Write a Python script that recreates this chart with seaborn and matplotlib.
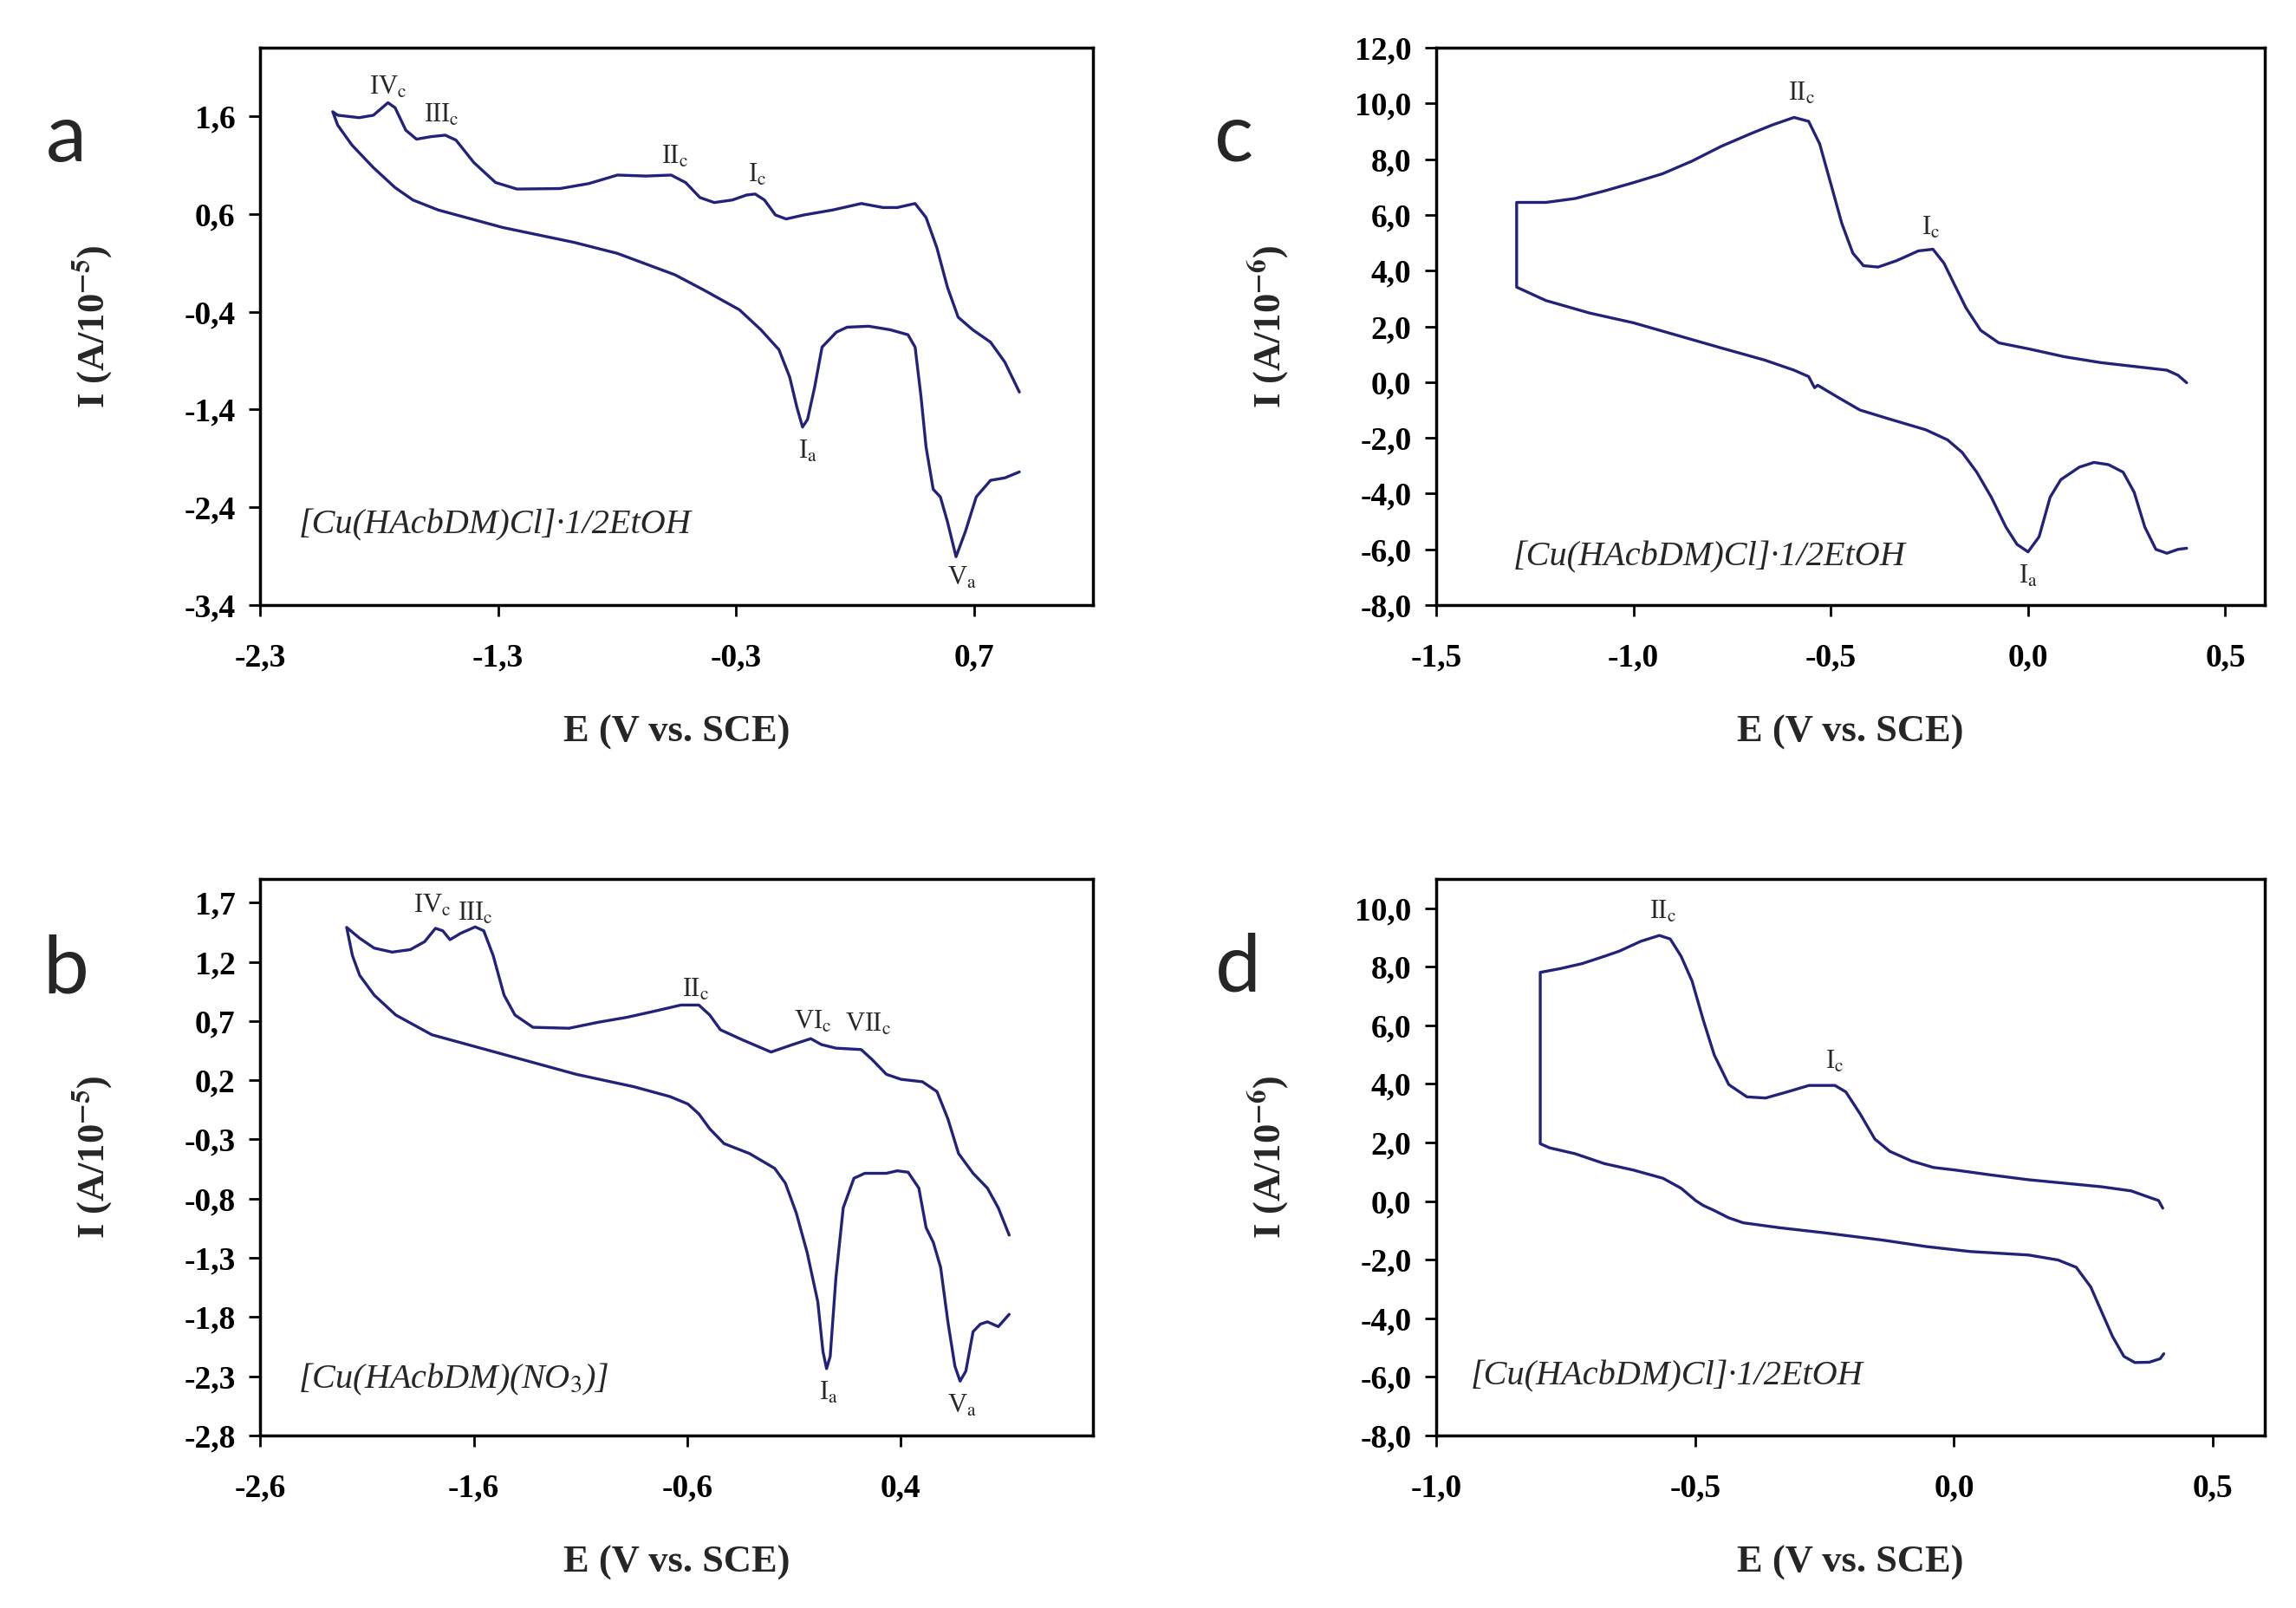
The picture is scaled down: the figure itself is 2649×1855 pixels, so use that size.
import numpy as np
import pandas as pd
import seaborn as sns
import matplotlib.pyplot as plt

# Voltamogramas ciclicos - 4 paineis (a, b, c, d)

sns.set_style('white')
plt.rcParams['font.family'] = ['Liberation Serif', 'DejaVu Serif']
plt.rcParams['mathtext.fontset'] = 'stix'

COR = '#22227a'

# ---- painel a ----
a_sup_E = [-1.995, -1.974, -1.884, -1.824, -1.763, -1.733, -1.688, -1.643, -1.582, -1.522,
           -1.477, -1.402, -1.311, -1.221, -1.040, -0.919, -0.799, -0.678, -0.573, -0.512,
           -0.452, -0.392, -0.316, -0.256, -0.220, -0.181, -0.135, -0.090, -0.015, 0.106,
           0.226, 0.317, 0.377, 0.452, 0.498, 0.543, 0.588, 0.633, 0.694, 0.769, 0.829, 0.890]
a_sup_I = [1.646, 1.610, 1.585, 1.610, 1.738, 1.687, 1.457, 1.365, 1.391, 1.406,
           1.355, 1.126, 0.922, 0.855, 0.860, 0.911, 0.998, 0.988, 0.998, 0.921,
           0.768, 0.717, 0.743, 0.794, 0.804, 0.743, 0.590, 0.549, 0.590, 0.641,
           0.707, 0.666, 0.666, 0.707, 0.564, 0.258, -0.150, -0.456, -0.584, -0.711, -0.915, -1.221]
a_inf_E = [-1.995, -1.974, -1.914, -1.824, -1.733, -1.658, -1.552, -1.281, -0.980, -0.799,
           -0.557, -0.437, -0.286, -0.196, -0.120, -0.075, -0.045, -0.021, 0.000, 0.030,
           0.061, 0.121, 0.166, 0.257, 0.347, 0.422, 0.452, 0.477, 0.498, 0.528,
           0.558, 0.588, 0.624, 0.663, 0.709, 0.769, 0.829, 0.890]
a_inf_I = [1.646, 1.508, 1.304, 1.074, 0.870, 0.743, 0.641, 0.462, 0.309, 0.197,
           -0.022, -0.176, -0.380, -0.584, -0.788, -1.068, -1.374, -1.579, -1.502, -1.170,
           -0.762, -0.609, -0.558, -0.548, -0.584, -0.635, -0.762, -1.272, -1.783, -2.216,
           -2.293, -2.548, -2.905, -2.650, -2.293, -2.124, -2.099, -2.038]

# ---- painel b ----
b_sup_E = [-2.195, -2.134, -2.066, -1.982, -1.897, -1.830, -1.779, -1.745, -1.711, -1.661,
           -1.593, -1.553, -1.509, -1.458, -1.407, -1.323, -1.154, -1.019, -0.884, -0.749,
           -0.630, -0.546, -0.495, -0.445, -0.343, -0.208, -0.107, -0.022, 0.028, 0.096,
           0.214, 0.265, 0.332, 0.400, 0.501, 0.569, 0.620, 0.670, 0.738, 0.805, 0.856, 0.907]
b_sup_I = [1.491, 1.399, 1.316, 1.282, 1.303, 1.370, 1.483, 1.462, 1.387, 1.441,
           1.495, 1.462, 1.253, 0.919, 0.751, 0.647, 0.639, 0.689, 0.731, 0.785,
           0.835, 0.835, 0.751, 0.626, 0.542, 0.438, 0.501, 0.551, 0.501, 0.471,
           0.459, 0.375, 0.250, 0.208, 0.187, 0.104, -0.126, -0.419, -0.586, -0.711, -0.878, -1.108]
b_inf_E = [-2.195, -2.168, -2.134, -2.066, -1.965, -1.796, -1.458, -1.120, -0.850, -0.681,
           -0.597, -0.546, -0.495, -0.428, -0.309, -0.191, -0.141, -0.090, -0.039, 0.011,
           0.035, 0.052, 0.069, 0.096, 0.130, 0.180, 0.231, 0.332, 0.383, 0.434,
           0.484, 0.518, 0.552, 0.586, 0.620, 0.653, 0.677, 0.704, 0.738, 0.772,
           0.805, 0.856, 0.907]
b_inf_I = [1.491, 1.253, 1.086, 0.919, 0.751, 0.584, 0.417, 0.250, 0.145, 0.062,
           -0.001, -0.084, -0.210, -0.335, -0.419, -0.544, -0.669, -0.920, -1.254, -1.672,
           -2.090, -2.236, -2.132, -1.463, -0.878, -0.628, -0.586, -0.586, -0.565, -0.577,
           -0.711, -1.045, -1.171, -1.380, -1.840, -2.216, -2.341, -2.257, -1.923, -1.860,
           -1.840, -1.881, -1.777]

# ---- painel c ----
c_sup_E = [-1.296, -1.222, -1.148, -1.074, -1.000, -0.926, -0.852, -0.778, -0.704, -0.648,
           -0.593, -0.556, -0.528, -0.500, -0.472, -0.444, -0.417, -0.380, -0.333, -0.278,
           -0.241, -0.213, -0.185, -0.157, -0.120, -0.074, 0.000, 0.093, 0.185, 0.278,
           0.352, 0.380, 0.402]
c_sup_I = [6.45, 6.45, 6.59, 6.86, 7.16, 7.48, 7.93, 8.46, 8.91, 9.23,
           9.50, 9.36, 8.55, 7.13, 5.70, 4.63, 4.18, 4.13, 4.36, 4.71,
           4.77, 4.27, 3.46, 2.66, 1.86, 1.41, 1.20, 0.91, 0.70, 0.55,
           0.43, 0.25, -0.02]
c_inf_E = [-1.296, -1.222, -1.111, -1.000, -0.889, -0.778, -0.667, -0.593, -0.556, -0.541,
           -0.533, -0.481, -0.426, -0.352, -0.259, -0.204, -0.167, -0.130, -0.093, -0.056,
           -0.028, 0.000, 0.028, 0.056, 0.083, 0.130, 0.167, 0.204, 0.241, 0.269,
           0.296, 0.324, 0.352, 0.380, 0.402]
c_inf_I = [3.41, 2.93, 2.48, 2.13, 1.68, 1.23, 0.79, 0.43, 0.20, -0.20,
           -0.11, -0.55, -1.00, -1.32, -1.71, -2.07, -2.52, -3.23, -4.13, -5.20,
           -5.82, -6.09, -5.55, -4.13, -3.50, -3.05, -2.88, -2.96, -3.23, -3.95,
           -5.20, -6.00, -6.14, -6.00, -5.96]

# ---- painel d ----
d_sup_E = [-0.799, -0.760, -0.718, -0.675, -0.647, -0.605, -0.569, -0.548, -0.527, -0.506,
           -0.484, -0.463, -0.435, -0.400, -0.364, -0.322, -0.280, -0.230, -0.209, -0.181,
           -0.153, -0.124, -0.082, -0.040, 0.003, 0.073, 0.144, 0.215, 0.285, 0.342,
           0.377, 0.395, 0.403]
d_sup_I = [7.81, 7.94, 8.11, 8.36, 8.53, 8.87, 9.07, 8.95, 8.36, 7.52,
           6.17, 4.99, 3.98, 3.56, 3.52, 3.73, 3.95, 3.95, 3.73, 2.97,
           2.12, 1.70, 1.37, 1.15, 1.06, 0.89, 0.73, 0.61, 0.49, 0.35,
           0.13, 0.02, -0.24]
d_inf_E = [-0.799, -0.781, -0.732, -0.675, -0.619, -0.562, -0.527, -0.499, -0.484, -0.463,
           -0.435, -0.407, -0.336, -0.251, -0.138, -0.054, 0.031, 0.144, 0.201, 0.236,
           0.264, 0.285, 0.306, 0.328, 0.349, 0.377, 0.398, 0.405]
d_inf_I = [1.96, 1.82, 1.62, 1.28, 1.06, 0.78, 0.44, 0.02, -0.15, -0.32,
           -0.57, -0.74, -0.91, -1.08, -1.33, -1.55, -1.72, -1.84, -2.01, -2.26,
           -2.93, -3.78, -4.62, -5.30, -5.51, -5.50, -5.38, -5.21]

# eixos
a_xticks = [-2.3, -1.3, -0.3, 0.7]
a_yticks = [-3.4, -2.4, -1.4, -0.4, 0.6, 1.6]
b_xticks = [-2.6, -1.6, -0.6, 0.4]
b_yticks = [-2.8, -2.3, -1.8, -1.3, -0.8, -0.3, 0.2, 0.7, 1.2, 1.7]
c_xticks = [-1.5, -1.0, -0.5, 0.0, 0.5]
c_yticks = [-8, -6, -4, -2, 0, 2, 4, 6, 8, 10, 12]
d_xticks = [-1.0, -0.5, 0.0, 0.5]
d_yticks = [-8, -6, -4, -2, 0, 2, 4, 6, 8, 10]

# rotulos dos picos
a_picos = [('IV', 'c', -1.763, 1.89), ('III', 'c', -1.537, 1.61), ('II', 'c', -0.557, 1.18),
           ('I', 'c', -0.211, 1.00), ('I', 'a', 0.0, -1.83), ('V', 'a', 0.648, -3.13)]
b_picos = [('IV', 'c', -1.796, 1.671), ('III', 'c', -1.593, 1.608), ('II', 'c', -0.563, 0.960),
           ('VI', 'c', -0.011, 0.689), ('VII', 'c', 0.248, 0.668), ('I', 'a', 0.062, -2.445),
           ('V', 'a', 0.687, -2.550)]
c_picos = [('II', 'c', -0.574, 10.34), ('I', 'c', -0.246, 5.52), ('I', 'a', 0.0, -6.98)]
d_picos = [('II', 'c', -0.562, 9.88), ('I', 'c', -0.230, 4.74)]

composto_cl = '[Cu(HAcbDM)Cl]·1/2EtOH'
composto_no3 = r'[Cu(HAcbDM)(NO$_{3}$)]'

paineis = [
    dict(letra='a', pos=[0.1133, 0.6237, 0.3628, 0.3466], sup=(a_sup_E, a_sup_I), inf=(a_inf_E, a_inf_I),
         xlim=(-2.3, 1.2), ylim=(-3.4, 2.3), xt=a_xticks, yt=a_yticks, exp='-5',
         picos=a_picos, txt=composto_cl, txtpos=(0.046, 0.143), letrapos=(76, 160)),
    dict(letra='c', pos=[0.6255, 0.6237, 0.3609, 0.3466], sup=(c_sup_E, c_sup_I), inf=(c_inf_E, c_inf_I),
         xlim=(-1.5, 0.6), ylim=(-8, 12), xt=c_xticks, yt=c_yticks, exp='-6',
         picos=c_picos, txt=composto_cl, txtpos=(0.093, 0.086), letrapos=(1424, 160)),
    dict(letra='b', pos=[0.1133, 0.1073, 0.3628, 0.3461], sup=(b_sup_E, b_sup_I), inf=(b_inf_E, b_inf_I),
         xlim=(-2.6, 1.3), ylim=(-2.8, 1.9), xt=b_xticks, yt=b_yticks, exp='-5',
         picos=b_picos, txt=composto_no3, txtpos=(0.046, 0.101), letrapos=(76, 1120)),
    dict(letra='d', pos=[0.6255, 0.1073, 0.3609, 0.3461], sup=(d_sup_E, d_sup_I), inf=(d_inf_E, d_inf_I),
         xlim=(-1.0, 0.6), ylim=(-8, 11), xt=d_xticks, yt=d_yticks, exp='-6',
         picos=d_picos, txt=composto_cl, txtpos=(0.042, 0.106), letrapos=(1428, 1118)),
]


def virgula(v):
    return f'{v:.1f}'.replace('.', ',')


fig = plt.figure(figsize=(26.49, 18.55), dpi=100)

for p in paineis:
    ax = fig.add_axes(p['pos'])
    # curva continua: ramo inferior invertido + ramo superior
    E = list(p['inf'][0])[::-1] + list(p['sup'][0])
    I = list(p['inf'][1])[::-1] + list(p['sup'][1])
    df = pd.DataFrame({'E': E, 'I': I})
    sns.lineplot(data=df, x='E', y='I', sort=False, estimator=None, color=COR, lw=2.4,
                 solid_joinstyle='round', ax=ax)

    ax.set_xlim(*p['xlim'])
    ax.set_ylim(*p['ylim'])
    ax.set_xticks(p['xt'])
    ax.set_xticklabels([virgula(v) for v in p['xt']])
    ax.set_yticks(p['yt'])
    ax.set_yticklabels([virgula(v) for v in p['yt']])
    ax.tick_params(axis='both', direction='out', length=9.5, width=2, colors='black',
                   bottom=True, left=True, top=False, right=False, labelsize=27)
    ax.tick_params(axis='x', pad=22)
    ax.tick_params(axis='y', pad=11)
    for lab in ax.get_xticklabels() + ax.get_yticklabels():
        lab.set_fontweight('bold')
    for s in ax.spines.values():
        s.set_visible(True)
        s.set_color('black')
        s.set_linewidth(2.5)

    ax.set_xlabel('E (V vs. SCE)', fontsize=32, fontweight='bold')
    ax.set_ylabel(r'I (A/10$^{\mathbf{' + p['exp'] + r'}}$)', fontsize=32, fontweight='bold')
    ax.xaxis.set_label_coords(0.5, -147 / 643)
    ax.yaxis.set_label_coords(-194 / 961, 0.5)
    ax.xaxis.label.set_va('center')
    ax.yaxis.label.set_va('center')

    for num, sub, x, y in p['picos']:
        ax.text(x, y, num + r'$_{\rm ' + sub + '}$', fontsize=22, ha='center', va='center')

    ax.text(p['txtpos'][0], p['txtpos'][1], p['txt'], transform=ax.transAxes,
            fontsize=29, style='italic', ha='left', va='center')

    fig.text(p['letrapos'][0] / 2649, 1 - p['letrapos'][1] / 1855, p['letra'],
             fontsize=68, family='Lato', ha='center', va='center')

fig.savefig('out.png', dpi=100)
